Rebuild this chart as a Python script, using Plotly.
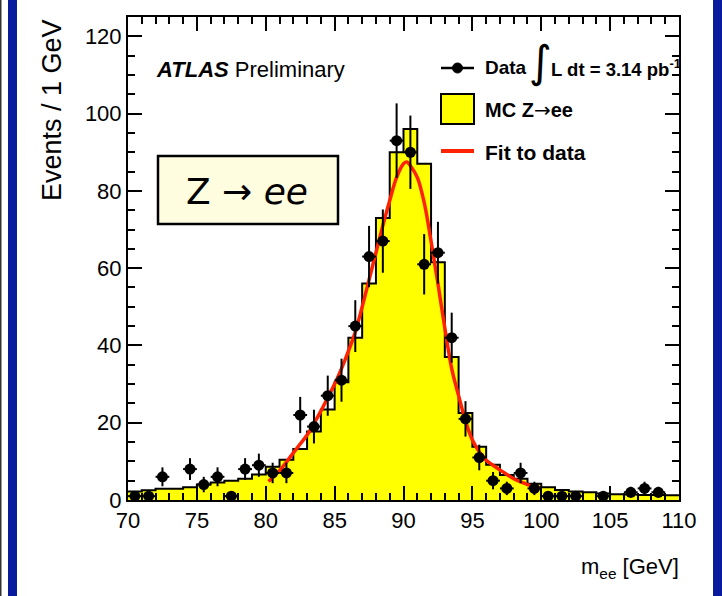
import numpy as np
import plotly.graph_objects as go

# ---------------- data ----------------
bin_low = list(range(70, 110))  # 1 GeV bins 70..110
mc_counts = [2.2, 2.5, 2.9, 2.9, 3.3, 4.0, 4.5, 5.0, 5.5, 6.6,
             8.6, 10.4, 13.2, 17.7, 23.4, 30.5, 42.0, 56.0, 73.0, 90.0,
             96.0, 87.0, 61.5, 37.0, 22.5, 13.8, 9.1, 6.5, 5.5, 4.2,
             3.3, 2.6, 2.2, 2.0, 1.7, 1.5, 1.4, 1.3, 1.3, 1.2]
data_counts = [1, 1, 6, 0, 8, 4, 6, 1, 8, 9,
               7, 7, 22, 19, 27, 31, 45, 63, 67, 93,
               90, 61, 64, 42, 21, 11, 5, 3, 7, 3,
               1, 1, 1, 0, 1, 0, 2, 3, 2, 0]
fit_x = [80.2, 80.5, 81, 81.5, 82, 82.5, 83, 83.5, 84, 84.5, 85, 85.5, 86, 86.5,
         87, 87.5, 88, 88.5, 89, 89.5, 90, 90.25, 90.5, 91, 91.5, 92, 92.5, 93,
         93.5, 94, 94.5, 95, 95.5, 96, 96.5, 97, 97.5, 98, 98.5, 99, 99.5, 100]
fit_y = [4.8, 5.8, 7.6, 9.8, 12.2, 14.5, 16.8, 19.8, 23, 26.5, 30, 34, 38.5, 43.5,
         50, 57, 64, 71, 77.5, 83.5, 87, 87.5, 86.5, 83.5, 77, 67, 56, 44.5,
         34, 27, 20.5, 15.5, 12.5, 10.3, 9, 7.8, 6.6, 5.5, 4.7, 4, 3.5, 3.1]
x_ticks = [70, 75, 80, 85, 90, 95, 100, 105, 110]
y_ticks = [0, 20, 40, 60, 80, 100, 120]

# ---------------- geometry ----------------
W, H = 722, 596
L, R, T, B = 128, 679, 17, 500


def pxx(x):
    return (x - L) / (R - L)


def pyy(y):
    return (B - y) / (B - T)


FONT = "Liberation Sans, Arial, Helvetica, sans-serif"

fig = go.Figure()

# MC histogram (filled step)
edges = bin_low + [110]
fig.add_trace(go.Scatter(
    x=edges, y=mc_counts + [mc_counts[-1]], mode="lines", line_shape="hv",
    fill="tozeroy", fillcolor="#ffff00", line=dict(color="black", width=2),
    hoverinfo="skip", showlegend=False))

# Data points
dx = [b + 0.5 for b, c in zip(bin_low, data_counts) if c > 0]
dy = [c for c in data_counts if c > 0]
derr = [float(np.sqrt(c)) for c in dy]

# Fit curve
fig.add_trace(go.Scatter(
    x=fit_x, y=fit_y, mode="lines", line=dict(color="#ff2200", width=3.5, shape="spline"),
    hoverinfo="skip", showlegend=False))

fig.add_trace(go.Scatter(
    x=dx, y=dy, mode="markers",
    marker=dict(color="black", size=11, symbol="circle"),
    error_y=dict(type="data", array=derr, color="black", thickness=2, width=0),
    error_x=dict(type="constant", value=0.5, color="black", thickness=2, width=0),
    showlegend=False))

axis_common = dict(
    showgrid=False, zeroline=False, showline=True, linecolor="black", linewidth=2,
    mirror="allticks", ticks="inside", ticklen=14, tickwidth=1.5, tickcolor="black",
    tickfont=dict(family=FONT, size=22, color="black"),
)
fig.update_xaxes(range=[70, 110], tickvals=x_ticks,
                 minor=dict(dtick=1, ticklen=7, tickwidth=1.5, tickcolor="black", ticks="inside"),
                 **axis_common)
fig.update_yaxes(range=[0, 125], tickvals=y_ticks,
                 minor=dict(dtick=5, ticklen=7, tickwidth=1.5, tickcolor="black", ticks="inside"),
                 **axis_common)

shapes = []
# blue frame bars & thin black line
shapes.append(dict(type="rect", xref="paper", yref="paper", x0=pxx(8), x1=pxx(17),
                   y0=pyy(H), y1=pyy(0), fillcolor="#0a1a9e", line=dict(width=0), layer="above"))
shapes.append(dict(type="rect", xref="paper", yref="paper", x0=pxx(713), x1=pxx(722),
                   y0=pyy(H), y1=pyy(0), fillcolor="#0a1a9e", line=dict(width=0), layer="above"))
shapes.append(dict(type="rect", xref="paper", yref="paper", x0=pxx(0), x1=pxx(1.5),
                   y0=pyy(H), y1=pyy(0), fillcolor="#333333", line=dict(width=0), layer="above"))
# Z -> ee box
shapes.append(dict(type="rect", xref="paper", yref="paper", x0=pxx(158), x1=pxx(338),
                   y0=pyy(224), y1=pyy(156), fillcolor="#fffde0",
                   line=dict(color="black", width=2.5), layer="above"))
# legend symbols
shapes.append(dict(type="line", xref="paper", yref="paper", x0=pxx(441), x1=pxx(474),
                   y0=pyy(68), y1=pyy(68), line=dict(color="black", width=2.5)))
shapes.append(dict(type="circle", xref="paper", yref="paper", x0=pxx(452.5), x1=pxx(462.5),
                   y0=pyy(73), y1=pyy(63), fillcolor="black", line=dict(color="black", width=1)))
shapes.append(dict(type="rect", xref="paper", yref="paper", x0=pxx(441), x1=pxx(474),
                   y0=pyy(124), y1=pyy(94), fillcolor="#ffff00", line=dict(color="black", width=2)))
shapes.append(dict(type="line", xref="paper", yref="paper", x0=pxx(441), x1=pxx(474),
                   y0=pyy(151), y1=pyy(151), line=dict(color="#ff2200", width=4)))

annotations = []


def ann(text, x, y, size, xanchor="left", yanchor="middle", family=FONT, **kw):
    annotations.append(dict(text=text, x=pxx(x), y=pyy(y), xref="paper", yref="paper",
                            showarrow=False, xanchor=xanchor, yanchor=yanchor,
                            font=dict(family=family, size=size, color="black"), **kw))


ann("<b><i>ATLAS</i></b> Preliminary", 154, 70, 22)
ann("<b>Data</b>", 483, 68, 19)
ann("∫", 540, 62, 44, xanchor="center", family="DejaVu Sans, sans-serif")
ann("<b>L dt = 3.14 pb<sup>-1</sup></b>", 549, 68, 18.5)
ann("<b>MC Z</b><span style='font-family:DejaVu Sans'>→</span><b>ee</b>", 483, 110, 20)
ann("<b>Fit to data</b>", 483, 152, 21)
ann("Z → <i>ee</i>", 247, 191, 36, xanchor="center", family="DejaVu Sans, sans-serif")
ann("m<sub>ee</sub> [GeV]", 681, 568, 22, xanchor="right")
ann("Events / 1 GeV", 52, 110, 27, xanchor="center", textangle=-90)

fig.update_layout(
    width=W, height=H, autosize=False,
    margin=dict(l=L, r=W - R, t=T, b=H - B, pad=0),
    paper_bgcolor="white", plot_bgcolor="white",
    shapes=shapes, annotations=annotations, showlegend=False,
)

fig.write_html("out.html", config={"displayModeBar": False})
